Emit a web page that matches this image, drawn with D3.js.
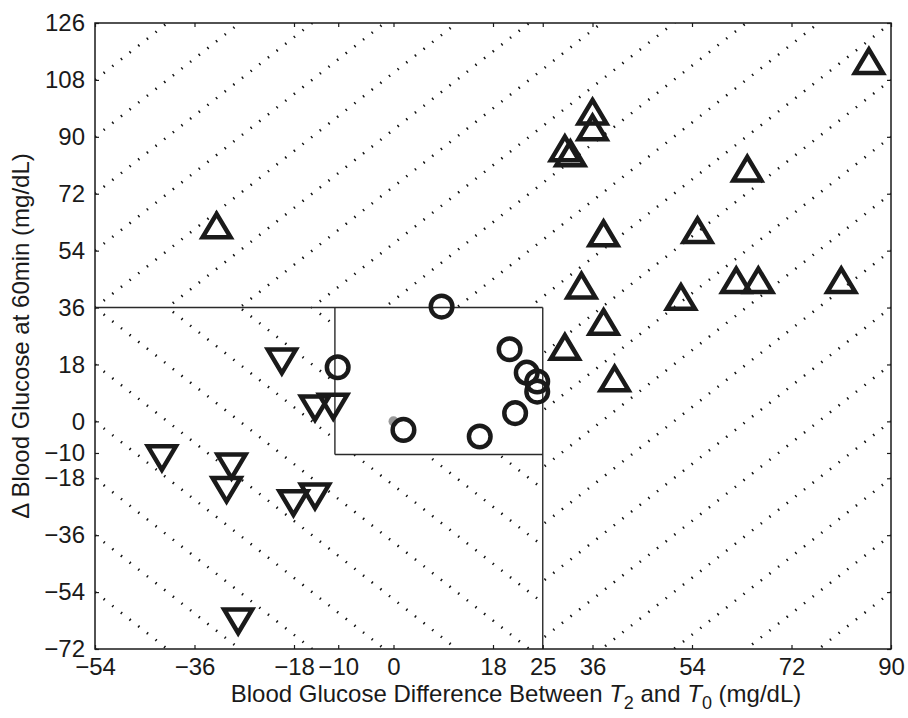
<!DOCTYPE html>
<html>
<head>
<meta charset="utf-8">
<script src="https://cdn.jsdelivr.net/npm/d3@7/dist/d3.min.js"></script>
<style>
  html, body { margin: 0; padding: 0; background: #ffffff; }
  svg { display: block; }
  text { font-family: "Liberation Sans", Arial, Helvetica, sans-serif; fill: #1a1a1a; }
</style>
</head>
<body>
<svg id="chart" width="908" height="718"></svg>
<script>
// ---------------- data ----------------
const upX   = [-32, 31, 32, 36, 36, 64, 38, 55, 34, 62, 66, 81, 52, 38, 31, 40, 86];
const upY   = [62, 86.4, 84.8, 98, 93, 80, 59.5, 60.5, 43, 44.7, 44.7, 44.7, 39.4, 31.5, 23.6, 13.6, 114];
const downX = [-20.2, -14.2, -10.9, -41.9, -29.3, -30.2, -18.1, -14.2, -28.1];
const downY = [18.9, 4.1, 4.6, -11.7, -14.3, -21.7, -25.9, -23.8, -63.3];
const circX = [8.7, -10.1, 21.0, 24.1, 26.0, 26.0, 22.0, 1.8, 15.6];
const circY = [36.3, 17.1, 22.8, 15.4, 12.6, 9.4, 2.6, -2.7, -4.8];
const refX  = [0];
const refY  = [0];

const xDomain = [-54, 90];
const yDomain = [-72, 126];
const xTickValues = [-54, -36, -18, -10, 0, 18, 27, 36, 54, 72, 90];
const xTickLabels = ["\u221254", "\u221236", "\u221218", "\u221210", "0", "18", "25", "36", "54", "72", "90"];
const yTickValues = [-72, -54, -36, -18, -10, 0, 18, 36, 54, 72, 90, 108, 126];
const yTickLabels = ["\u221272", "\u221254", "\u221236", "\u221218", "\u221210", "0", "18", "36", "54", "72", "90", "108", "126"];
// zone boundaries (data units)
const zoneX = [-10.6, 27];
const zoneY = [-10.5, 36];

// ---------------- layout ----------------
const svg = d3.select("#chart");
const L = 95, R = 891, T = 23, B = 649;
const x = d3.scaleLinear().domain(xDomain).range([L, R]);
const y = d3.scaleLinear().domain(yDomain).range([B, T]);
const ink = "#1a1a1a";

const defs = svg.append("defs");
defs.append("clipPath").attr("id", "clipPos").append("path")
  .attr("d",
    `M${x(xDomain[0])},${y(yDomain[1])}H${x(xDomain[1])}V${y(zoneY[1])}H${x(xDomain[0])}Z` +
    `M${x(zoneX[1])},${y(zoneY[1])}H${x(xDomain[1])}V${y(yDomain[0])}H${x(zoneX[1])}Z`);
defs.append("clipPath").attr("id", "clipNeg").append("path")
  .attr("clip-rule", "evenodd")
  .attr("d",
    `M${x(xDomain[0])},${y(zoneY[1])}H${x(zoneX[1])}V${y(yDomain[0])}H${x(xDomain[0])}Z` +
    `M${x(zoneX[0])},${y(zoneY[1])}H${x(zoneX[1])}V${y(zoneY[0])}H${x(zoneX[0])}Z`);

// hatch lines at 45 deg in normalized axes units
const nStep = 11;
const ks = d3.range(-nStep, 2 * nStep + 1);
const ux = u => xDomain[0] + (xDomain[1] - xDomain[0]) * u;
const vy = v => yDomain[0] + (yDomain[1] - yDomain[0]) * v;

const hatchStyle = sel => sel
  .attr("stroke", "#111")
  .attr("stroke-width", 2.6)
  .attr("stroke-dasharray", "1.4,9.6")
  .attr("fill", "none");

svg.append("g").attr("clip-path", "url(#clipPos)")
  .selectAll("line").data(ks.filter(k => k >= -nStep && k <= nStep)).join("line")
  .attr("x1", k => x(ux(0))).attr("y1", k => y(vy(k / nStep)))
  .attr("x2", k => x(ux(1))).attr("y2", k => y(vy(1 + k / nStep)))
  .call(hatchStyle);

svg.append("g").attr("clip-path", "url(#clipNeg)")
  .selectAll("line").data(ks.filter(k => k >= 0)).join("line")
  .attr("x1", k => x(ux(0))).attr("y1", k => y(vy(k / nStep)))
  .attr("x2", k => x(ux(1))).attr("y2", k => y(vy(k / nStep - 1)))
  .call(hatchStyle);

// zone boundary lines
const zoneLines = [
  [[xDomain[0], zoneY[1]], [zoneX[1], zoneY[1]]],
  [[zoneX[1], zoneY[1]], [zoneX[1], yDomain[0]]],
  [[zoneX[0], zoneY[1]], [zoneX[0], zoneY[0]]],
  [[zoneX[0], zoneY[0]], [zoneX[1], zoneY[0]]]
];
svg.append("g").selectAll("line").data(zoneLines).join("line")
  .attr("x1", d => x(d[0][0])).attr("y1", d => y(d[0][1]))
  .attr("x2", d => x(d[1][0])).attr("y2", d => y(d[1][1]))
  .attr("stroke", "#2a2a2a").attr("stroke-width", 1.4);

// axes frame
svg.append("rect").attr("x", L).attr("y", T).attr("width", R - L).attr("height", B - T)
  .attr("fill", "none").attr("stroke", ink).attr("stroke-width", 1.5);

// axes with inward ticks
const xAxisB = d3.axisBottom(x).tickValues(xTickValues).tickFormat((d, i) => xTickLabels[i])
  .tickSizeInner(-4).tickSizeOuter(0).tickPadding(9);
const gxb = svg.append("g").attr("transform", `translate(0,${B})`).call(xAxisB);
const xAxisT = d3.axisTop(x).tickValues(xTickValues).tickFormat("").tickSizeInner(-4).tickSizeOuter(0);
const gxt = svg.append("g").attr("transform", `translate(0,${T})`).call(xAxisT);
const yAxisL = d3.axisLeft(y).tickValues(yTickValues).tickFormat((d, i) => yTickLabels[i])
  .tickSizeInner(-4).tickSizeOuter(0).tickPadding(10);
const gyl = svg.append("g").attr("transform", `translate(${L},0)`).call(yAxisL);
const yAxisR = d3.axisRight(y).tickValues(yTickValues).tickFormat("").tickSizeInner(-4).tickSizeOuter(0);
const gyr = svg.append("g").attr("transform", `translate(${R},0)`).call(yAxisR);
[gxb, gxt, gyl, gyr].forEach(g => {
  g.select(".domain").remove();
  g.selectAll(".tick line").attr("stroke", ink).attr("stroke-width", 1.2);
  g.selectAll("text").style("font-family", "'Liberation Sans', Arial, sans-serif")
    .attr("font-size", 24).attr("fill", "#1a1a1a");
});
gxb.selectAll("text").attr("dy", "0.71em");

// markers
const upPath = "M0,-11.5L14,12L-14,12Z";
const downPath = "M0,11.5L14,-12L-14,-12Z";
const mk = svg.append("g");
mk.selectAll("circle.ref").data(refX.map((v, i) => [v, refY[i]])).join("circle")
  .attr("class", "ref").attr("cx", d => x(d[0])).attr("cy", d => y(d[1])).attr("r", 5)
  .attr("fill", "#9a9a9a");
mk.selectAll("path.up").data(upX.map((v, i) => [v, upY[i]])).join("path")
  .attr("class", "up").attr("d", upPath)
  .attr("transform", d => `translate(${x(d[0])},${y(d[1])})`)
  .attr("fill", "none").attr("stroke", ink).attr("stroke-width", 4.5).attr("stroke-linejoin", "miter");
mk.selectAll("path.down").data(downX.map((v, i) => [v, downY[i]])).join("path")
  .attr("class", "down").attr("d", downPath)
  .attr("transform", d => `translate(${x(d[0])},${y(d[1])})`)
  .attr("fill", "none").attr("stroke", ink).attr("stroke-width", 4.5).attr("stroke-linejoin", "miter");
mk.selectAll("circle.pt").data(circX.map((v, i) => [v, circY[i]])).join("circle")
  .attr("class", "pt").attr("cx", d => x(d[0])).attr("cy", d => y(d[1])).attr("r", 10.8)
  .attr("fill", "none").attr("stroke", ink).attr("stroke-width", 4.5);

// axis labels
const xl = svg.append("text").attr("x", 516).attr("y", 702).attr("text-anchor", "middle")
  .attr("font-size", 24);
xl.append("tspan").text("Blood Glucose Difference Between ");
xl.append("tspan").attr("font-style", "italic").text("T");
xl.append("tspan").attr("font-size", 18).attr("dy", 7).text("2");
xl.append("tspan").attr("dy", -7).text(" and ");
xl.append("tspan").attr("font-style", "italic").text("T");
xl.append("tspan").attr("font-size", 18).attr("dy", 7).text("0");
xl.append("tspan").attr("dy", -7).text(" (mg/dL)");

svg.append("text").attr("transform", `translate(29,${(T + B) / 2}) rotate(-90)`)
  .attr("text-anchor", "middle").attr("font-size", 24)
  .text("\u0394 Blood Glucose at 60min (mg/dL)");
</script>
</body>
</html>
